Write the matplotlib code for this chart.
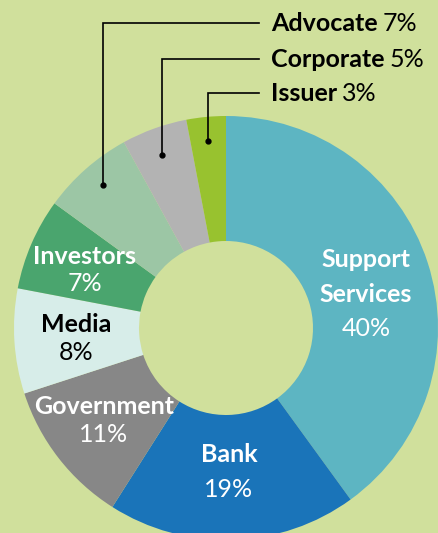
import matplotlib.pyplot as plt

# Share of respondents by stakeholder group (clockwise from 12 o'clock)
categories = ["Support\nServices", "Bank", "Government", "Media", "Investors",
              "Advocate", "Corporate", "Issuer"]
shares = [40, 19, 11, 8, 7, 7, 5, 3]
sliceColors = ["#5db5c2", "#1a74b9", "#878787", "#d7ede9", "#4aa56e",
               "#9cc6a5", "#b3b3b3", "#98c22f"]

bgColor = "#d0e09c"
plt.rcParams["font.family"] = ["Lato", "DejaVu Sans"]

fig = plt.figure(figsize=(4.39, 5.33), dpi=100, facecolor=bgColor)
ax = fig.add_axes([0, 0, 1, 1])
ax.set_facecolor(bgColor)

# Pie sits in pixel-like coordinates (y measured from the bottom)
centerX, centerY = 226, 533 - 328
outerR, innerR = 212, 87

wedges, _ = ax.pie(shares, colors=sliceColors, startangle=90, counterclock=False,
                   center=(centerX, centerY), radius=outerR, frame=True,
                   wedgeprops=dict(width=outerR - innerR, linewidth=0))
ax.set_xlim(0, 439)
ax.set_ylim(0, 533)
ax.set_aspect("equal")
ax.axis("off")

labelSize = 18

# Labels drawn inside the slices (name in bold, percentage in regular)
insideLabels = {
    0: (366, 259, 294, 328, "white"),
    1: (229, 455, None, 490, "white"),
    2: (104, 406, None, 434, "white"),
    3: (76, 325, None, 353, "black"),
    4: (85, 256, None, 283, "white"),
}
for idx, (lx, y1, y2, yp, col) in insideLabels.items():
    lines = categories[idx].split("\n")
    ax.text(lx, 533 - y1, lines[0], ha="center", va="center", fontsize=labelSize,
            fontweight="bold", color=col)
    if y2 is not None:
        ax.text(lx, 533 - y2, lines[1], ha="center", va="center", fontsize=labelSize,
                fontweight="bold", color=col)
    ax.text(lx, 533 - yp, f"{shares[idx]}%", ha="center", va="center",
            fontsize=labelSize, fontweight="normal", color=col)

# Callouts for the small slices at the top
callouts = [(5, 23, 103, 185), (6, 59, 162, 155), (7, 93, 208, 141)]
for idx, lineY, dropX, dotY in callouts:
    ax.plot([259, dropX, dropX], [533 - lineY, 533 - lineY, 533 - dotY],
            color="black", linewidth=1.2, solid_joinstyle="miter")
    ax.plot([dropX], [533 - dotY], "o", color="black", markersize=3.5)
    nameText = ax.text(271, 533 - lineY, categories[idx], ha="left", va="center",
                       fontsize=labelSize, fontweight="bold", color="black")
    fig.canvas.draw()
    bb = nameText.get_window_extent().transformed(ax.transData.inverted())
    ax.text(bb.x1 + 5, 533 - lineY, f"{shares[idx]}%", ha="left", va="center",
            fontsize=labelSize, fontweight="normal", color="black")

fig.savefig("out.png", dpi=100, facecolor=bgColor)
